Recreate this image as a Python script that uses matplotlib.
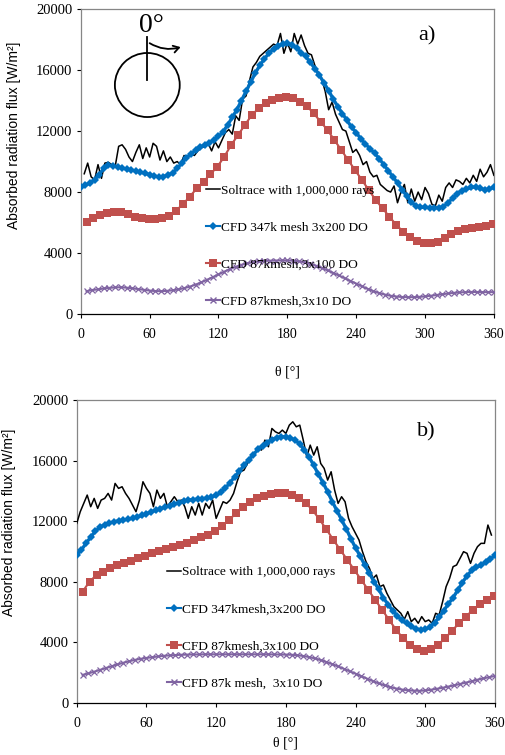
import matplotlib
matplotlib.use("Agg")
import matplotlib.pyplot as plt
from matplotlib.patches import Ellipse, FancyArrowPatch
from matplotlib.lines import Line2D
import numpy as np

# ---------------- data: panel a ----------------
a_sol_theta = list(range(3, 361, 3))
a_sol = [9200, 9900, 9000, 8800, 9800, 8900, 9900, 9950, 9800, 9700,
         11000, 11100, 10800, 10300, 10000, 10600, 11100, 10200, 10900, 10300,
         11200, 11000, 10100, 10700, 10000, 10300, 9900, 10000, 9800, 10400,
         10200, 10500, 10400, 10700, 10900, 11000, 11200, 10700, 11300, 10900,
         11400, 11900, 12100, 11800, 13000, 12700, 14100, 14300, 15300, 16200,
         16500, 16900, 17100, 17300, 17500, 17700, 17600, 18400, 17100, 17800,
         17200, 18400, 17700, 18300, 17600, 17100, 17000, 16300, 15800, 15400,
         14600, 13400, 13900, 13100, 12600, 12100, 12000, 11300, 10600, 10800,
         10400, 9800, 10000, 9300, 9000, 9100, 8500, 8300, 8100, 8000,
         8400, 7300, 8000, 8500, 7300, 8200, 7400, 8000, 7500, 8300,
         7900, 7200, 7100, 7800, 7400, 8300, 8600, 8300, 8800, 8700,
         8500, 8900, 8600, 9100, 8700, 9500, 9000, 9300, 9800, 9100]

a_cfd347_theta = list(range(0, 361, 4))
a_cfd347 = [8300, 8450, 8600, 8800, 9150, 9550, 9750, 9720, 9650, 9580,
            9500, 9440, 9380, 9300, 9220, 9150, 9050, 9000, 9020, 9120,
            9250, 9550, 9900, 10250, 10500, 10750, 10950, 11100, 11250, 11400,
            11650, 11950, 12400, 12900, 13400, 14000, 14600, 15200, 15800, 16300,
            16750, 17100, 17400, 17600, 17700, 17750, 17650, 17450, 17150, 16900,
            16500, 16100, 15650, 15150, 14650, 14100, 13600, 13150, 12700, 12250,
            11900, 11500, 11150, 10850, 10550, 10200, 9800, 9400, 9000, 8600,
            8150, 7750, 7350, 7100, 7000, 7000, 6980, 6970, 6970, 7050,
            7300, 7600, 7900, 8100, 8200, 8300, 8350, 8250, 8150, 8200, 8300]

a_cfd87_100_theta = list(range(5, 360, 6))
a_cfd87_100 = [6060, 6270, 6490, 6650, 6710, 6670, 6540, 6380, 6270, 6210,
               6210, 6270, 6430, 6780, 7210, 7700, 8240, 8680, 9180, 9660,
               10320, 11080, 11740, 12400, 13050, 13490, 13820, 14030, 14190, 14210,
               14140, 13920, 13640, 13160, 12610, 12070, 11410, 10760, 10100, 9440,
               8790, 8130, 7480, 6930, 6380, 5840, 5400, 5030, 4790, 4680,
               4680, 4740, 4960, 5220, 5440, 5550, 5640, 5730, 5790, 5880]

a_cfd87_10_theta = list(range(5, 361, 5))
a_cfd87_10 = [1500, 1580, 1620, 1680, 1720, 1750, 1760, 1730, 1690, 1640,
              1590, 1540, 1510, 1500, 1520, 1560, 1620, 1700, 1800, 1930,
              2080, 2250, 2420, 2600, 2780, 2950, 3100, 3230, 3330, 3400,
              3450, 3480, 3500, 3510, 3520, 3520, 3500, 3460, 3390, 3290,
              3170, 3030, 2870, 2700, 2530, 2350, 2170, 2000, 1820, 1650,
              1500, 1380, 1280, 1200, 1150, 1120, 1110, 1110, 1130, 1160,
              1200, 1250, 1300, 1350, 1390, 1420, 1440, 1450, 1450, 1440,
              1440, 1440]

# ---------------- data: panel b ----------------
b_sol_theta = list(range(0, 358, 3))
b_sol = [11860, 12630, 13180, 13730, 12960, 13510, 12850, 13400, 13510, 13840,
         13400, 14500, 14170, 14280, 13840, 13510, 13070, 12630, 13400, 14610,
         14170, 13840, 12960, 14060, 13510, 13840, 12960, 13290, 13620, 13290,
         13400, 12960, 12190, 12960, 12410, 13180, 12410, 13180, 12850, 13400,
         12190, 12740, 13290, 13180, 13400, 13840, 14610, 15270, 15380, 15820,
         16210, 16370, 16870, 16700, 17360, 16920, 18130, 17910, 17800, 18020,
         17800, 18350, 18570, 18240, 18350, 17360, 16260, 17030, 16370, 16920,
         15820, 15490, 14720, 15270, 14060, 13180, 13620, 13290, 12190, 11640,
         11200, 10760, 9990, 9330, 8890, 8230, 8450, 7680, 7790, 7240,
         6800, 6360, 6140, 5920, 5520, 6030, 5370, 5590, 5260, 5700,
         5370, 5480, 5260, 5920, 5810, 6690, 7680, 8230, 9000, 9110,
         9550, 9990, 9880, 9220, 9880, 10320, 10540, 10540, 11750, 11090]

b_cfd347_theta = list(range(0, 361, 4))
b_cfd347 = [9800, 10100, 10550, 10950, 11350, 11600, 11780, 11880, 11960, 12030,
            12080, 12120, 12200, 12280, 12380, 12500, 12620, 12730, 12830, 12930,
            13020, 13120, 13230, 13320, 13400, 13430, 13460, 13490, 13530, 13600,
            13720, 13900, 14200, 14550, 14950, 15300, 15700, 16050, 16400, 16750,
            17000, 17200, 17400, 17520, 17580, 17580, 17500, 17360, 17100, 16700,
            16250, 15700, 15100, 14550, 13950, 13300, 12700, 12100, 11500, 10850,
            10250, 9700, 9100, 8550, 8000, 7500, 6950, 6500, 6100, 5750,
            5450, 5250, 5050, 4900, 4830, 4860, 5000, 5300, 5650, 6100,
            6550, 6950, 7450, 7950, 8400, 8750, 8950, 9100, 9300, 9500, 9750]

b_cfd87_100_theta = list(range(5, 360, 6))
b_cfd87_100 = [7350, 8010, 8450, 8670, 8890, 9110, 9260, 9390, 9550, 9700,
               9880, 10050, 10160, 10320, 10450, 10580, 10760, 10930, 11090, 11370,
               11680, 12080, 12520, 12960, 13290, 13510, 13660, 13770, 13840, 13840,
               13730, 13550, 13220, 12740, 12120, 11460, 10760, 10100, 9440, 8780,
               8120, 7460, 6800, 6140, 5480, 4820, 4270, 3830, 3540, 3450,
               3540, 3830, 4270, 4750, 5260, 5700, 6140, 6510, 6800, 7060]

b_cfd87_10_theta = list(range(5, 361, 5))
b_cfd87_10 = [1850, 1950, 2060, 2180, 2300, 2420, 2540, 2650, 2750, 2840,
              2910, 2970, 3020, 3070, 3110, 3140, 3160, 3180, 3190, 3200,
              3200, 3210, 3210, 3210, 3210, 3210, 3210, 3210, 3210, 3210,
              3210, 3210, 3210, 3200, 3200, 3190, 3180, 3150, 3100, 3030,
              2940, 2830, 2700, 2560, 2410, 2250, 2090, 1930, 1760, 1600,
              1440, 1290, 1160, 1040, 950, 880, 830, 810, 800, 820,
              870, 930, 1000, 1080, 1160, 1250, 1340, 1430, 1530, 1620,
              1700, 1780]

labels_a = ["Soltrace with 1,000,000 rays", "CFD 347k mesh 3x200 DO",
            "CFD 87kmesh,3x100 DO", "CFD 87kmesh,3x10 DO"]
labels_b = ["Soltrace with 1,000,000 rays", "CFD 347kmesh,3x200 DO",
            "CFD 87kmesh,3x100 DO", "CFD 87k mesh,  3x10 DO"]

x_ticks = [0, 60, 120, 180, 240, 300, 360]
y_ticks = [0, 4000, 8000, 12000, 16000, 20000]

SERIF = "Liberation Serif"
SANS = "Liberation Sans"
C_BLUE = "#0070C0"
C_RED = "#C0504D"
C_PURPLE = "#8064A2"
C_SPINE = "#868686"

fig = plt.figure(figsize=(5.05, 7.55), dpi=100)
ax1 = fig.add_axes([0.160, 0.584, 0.818, 0.404])
ax2 = fig.add_axes([0.152, 0.069, 0.828, 0.401])


def draw(ax, sol_t, sol, b_t, b, r_t, r, p_t, p, labels, leg_anchor, ylab_y, xlab_y, tag, tag_xy):
    ax.plot(sol_t, sol, color="black", lw=1.1, zorder=3)
    ax.plot(b_t, b, color=C_BLUE, lw=2.4, marker="D", ms=4.2, mew=0, zorder=4)
    ax.plot(r_t, r, color=C_RED, lw=1.5, marker="s", ms=5.2, mew=0, zorder=5)
    ax.plot(p_t, p, color=C_PURPLE, lw=1.5, marker="x", ms=4, mew=0.9, zorder=6)
    handles = [
        Line2D([], [], color="black", lw=1.1),
        Line2D([], [], color=C_BLUE, lw=1.5, marker="D", ms=4.2, mew=0),
        Line2D([], [], color=C_RED, lw=1.5, marker="s", ms=5.5, mew=0),
        Line2D([], [], color=C_PURPLE, lw=1.5, marker="x", ms=4.5, mew=1.0),
    ]
    ax.set_xlim(0, 360)
    ax.set_ylim(0, 20000)
    ax.set_xticks(x_ticks)
    ax.set_yticks(y_ticks)
    ax.set_xticklabels([str(v) for v in x_ticks], family=SERIF, fontsize=10)
    ax.set_yticklabels([str(v) for v in y_ticks], family=SERIF, fontsize=10.5)
    ax.tick_params(axis="x", direction="out", length=3, width=0.8, pad=7, colors="black")
    ax.tick_params(axis="y", direction="out", length=3, width=0.8, pad=3, colors="black")
    for s in ["top", "right", "left"]:
        ax.spines[s].set_color(C_SPINE)
        ax.spines[s].set_linewidth(0.9)
    ax.spines["bottom"].set_color("black")
    ax.spines["bottom"].set_linewidth(0.9)
    ax.set_ylabel("Absorbed radiation flux [W/m²]", family=SANS, fontsize=10)
    ax.yaxis.set_label_coords(-0.145, ylab_y)
    ax.set_xlabel("θ [°]", family=SERIF, fontsize=10)
    ax.xaxis.set_label_coords(0.5, xlab_y)
    leg = ax.legend(handles, labels, loc="upper left", bbox_to_anchor=leg_anchor,
                    frameon=False, borderaxespad=0, borderpad=0, handlelength=1.1,
                    handletextpad=0.05, labelspacing=1.85, numpoints=1,
                    prop={"family": SERIF, "size": 9.6})
    leg.set_zorder(10)
    ax.text(tag_xy[0], tag_xy[1], tag, transform=ax.transAxes, family=SERIF,
            fontsize=16, ha="center", va="center")


draw(ax1, a_sol_theta, a_sol, a_cfd347_theta, a_cfd347, a_cfd87_100_theta, a_cfd87_100,
     a_cfd87_10_theta, a_cfd87_10, labels_a, (0.302, 0.425), 0.587, -0.17, "a)", (0.838, 0.911))
draw(ax2, b_sol_theta, b_sol, b_cfd347_theta, b_cfd347, b_cfd87_100_theta, b_cfd87_100,
     b_cfd87_10_theta, b_cfd87_10, labels_b, (0.215, 0.452), 0.597, -0.112, "b)", (0.837, 0.894))

# orientation sketch in panel a
ax1.add_patch(Ellipse((0.161, 0.751), 0.157, 0.210, transform=ax1.transAxes,
                      fill=False, edgecolor="black", lw=1.3, zorder=7))
ax1.plot([0.161, 0.161], [0.908, 0.767], transform=ax1.transAxes, color="black",
         lw=1.3, zorder=7)
ax1.add_patch(FancyArrowPatch((0.161, 0.893), (0.248, 0.878), transform=ax1.transAxes,
                              connectionstyle="arc3,rad=0.25", arrowstyle="->,head_length=4,head_width=2.5",
                              color="black", lw=1.3, zorder=7))
ax1.text(0.172, 0.945, "0°", transform=ax1.transAxes, family=SERIF, fontsize=20,
         ha="center", va="center")

fig.savefig("out.png", dpi=100)
